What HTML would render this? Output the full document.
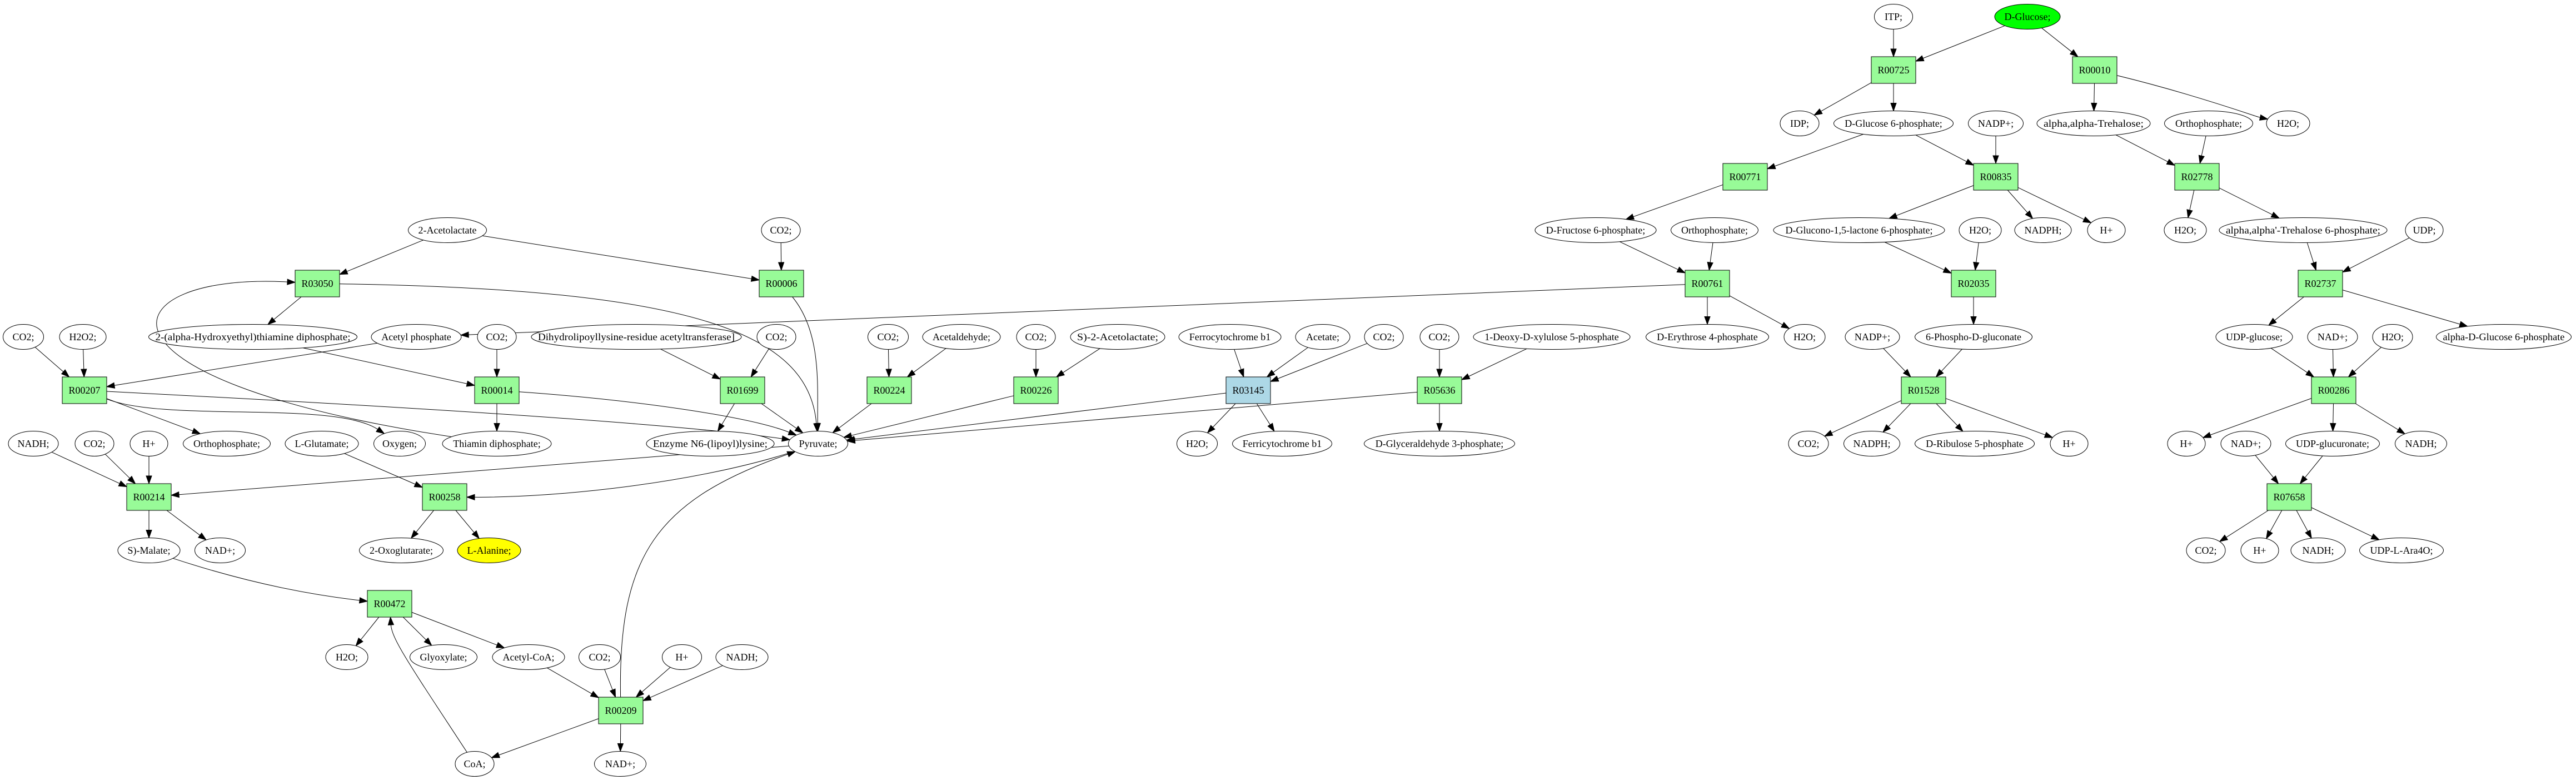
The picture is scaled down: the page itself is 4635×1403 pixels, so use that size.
<!DOCTYPE html>
<html><head><meta charset="utf-8">
<style>html,body{margin:0;padding:0;background:#fff;}svg{display:block;}</style>
</head><body>
<svg id="g" xmlns="http://www.w3.org/2000/svg" width="4635" height="1403" viewBox="0 0 4635 1403" font-family="Liberation Serif, serif" font-size="18"></svg>
<script>
var L=[30,126,222,318,414,510,606,702,798,894,990,1086,1182,1278,1374];
var N={};
function e(id,x,lv,w,label,fill){N[id]={x:x,y:L[lv],w:w,h:45,t:'e',l:label,f:fill||'#fff'};}
function r(id,x,lv,fill){N[id]={x:x,y:L[lv],w:80,h:48,t:'r',l:id,f:fill||'#98fb98'};}
e('acl',805,4,141,'2-Acetolactate');
e('co2a',1405,4,70,'CO2;');
r('R03050',571,5); r('R00006',1406,5);
e('co2b',42,6,73,'CO2;'); e('h2o2',149,6,84,'H2O2;');
e('hte',455,6,375,'2-(alpha-Hydroxyethyl)thiamine diphosphate;');
e('acp',749,6,162,'Acetyl phosphate');
e('co2c',894,6,70,'CO2;');
e('dhl',1145,6,378,'Dihydrolipoyllysine-residue acetyltransferase]');
e('co2d',1397,6,70,'CO2;');
e('co2e',1598,6,73,'CO2;'); e('acald',1730,6,140,'Acetaldehyde;');
e('co2f',1864,6,70,'CO2;'); e('s2a',2011,6,170,'S)-2-Acetolactate;');
e('ferro',2213,6,184,'Ferrocytochrome b1'); e('acet',2380,6,98,'Acetate;');
e('co2g',2490,6,70,'CO2;'); e('co2h',2590,6,70,'CO2;');
e('dxp',2792,6,282,'1-Deoxy-D-xylulose 5-phosphate');
e('e4p',3072,6,221,'D-Erythrose 4-phosphate');
r('R00207',152,7); r('R00014',894,7); r('R01699',1336,7); r('R00224',1600,7); r('R00226',1864,7);
r('R03145',2246,7,'#add8e6'); r('R05636',2590,7);
e('nadha',60,8,90,'NADH;'); e('co2i',170,8,70,'CO2;'); e('hpa',268,8,68,'H+');
e('orth',408,8,157,'Orthophosphate;'); e('glu',579,8,132,'L-Glutamate;');
e('oxy',719,8,93,'Oxygen;'); e('tdp',894,8,196,'Thiamin diphosphate;');
e('enz',1278,8,230,'Enzyme N6-(lipoyl)lysine;'); e('pyr',1472,8,107,'Pyruvate;');
e('h2oa',2154,8,73,'H2O;'); e('ferri',2307,8,179,'Ferricytochrome b1');
e('gap',2590,8,271,'D-Glyceraldehyde 3-phosphate;');
r('R00214',268,9); r('R00258',800,9);
e('mal',268,10,112,'S)-Malate;'); e('nadpa',396,10,91,'NAD+;');
e('oxg',722,10,151,'2-Oxoglutarate;'); e('ala',880,10,114,'L-Alanine;','#ffff00');
r('R00472',701,11);
e('h2ob',624,12,76,'H2O;'); e('glx',798,12,121,'Glyoxylate;'); e('acoa',951,12,130,'Acetyl-CoA;');
e('co2j',1079,12,75,'CO2;'); e('hpb',1227,12,71,'H+'); e('nadhb',1335,12,94,'NADH;');
r('R00209',1117,13);
e('coa',854,14,70,'CoA;'); e('nadpb',1116,14,93,'NAD+;');
e('itp',3407,0,69,'ITP;'); e('glc',3648,0,118,'D-Glucose;','#00ff00');
r('R00725',3407,1); r('R00010',3769,1);
e('idp',3238,2,70,'IDP;'); e('g6p',3407,2,215,'D-Glucose 6-phosphate;');
e('nadp1',3591,2,99,'NADP+;'); e('tre',3767,2,204,'alpha,alpha-Trehalose;');
e('orth2',3974,2,159,'Orthophosphate;'); e('h2oc',4117,2,78,'H2O;');
r('R00771',3140,3); r('R00835',3591,3); r('R02778',3953,3);
e('f6p',2871,4,218,'D-Fructose 6-phosphate;'); e('orth3',3085,4,157,'Orthophosphate;');
e('glcl',3345,4,308,'D-Glucono-1,5-lactone 6-phosphate;'); e('h2od',3563,4,76,'H2O;');
e('nadph1',3676,4,102,'NADPH;'); e('hpc',3790,4,68,'H+');
e('h2oe',3932,4,76,'H2O;'); e('t6p',4144,4,302,"alpha,alpha'-Trehalose 6-phosphate;");
e('udp',4362,4,68,'UDP;');
r('R00761',3072,5); r('R02035',3551,5); r('R02737',4175,5);
e('h2of',3247,6,74,'H2O;'); e('nadp2',3369,6,98,'NADP+;'); e('pgn',3551,6,211,'6-Phospho-D-gluconate');
e('udpg',4056,6,138,'UDP-glucose;'); e('nadpc',4197,6,90,'NAD+;'); e('h2og',4305,6,72,'H2O;');
e('ag6p',4505,6,243,'alpha-D-Glucose 6-phosphate');
r('R01528',3461,7); r('R00286',4199,7);
e('co2k',3254,8,72,'CO2;'); e('nadph2',3368,8,101,'NADPH;'); e('ru5p',3553,8,215,'D-Ribulose 5-phosphate');
e('hpd',3723,8,68,'H+'); e('hpe',3934,8,68,'H+'); e('nadpd',4041,8,90,'NAD+;');
e('udpga',4197,8,169,'UDP-glucuronate;'); e('nadhc',4356,8,93,'NADH;');
r('R07658',4119,9);
e('co2l',3969,10,70,'CO2;'); e('hpf',4066,10,68,'H+'); e('nadhd',4171,10,98,'NADH;');
e('ara',4321,10,151,'UDP-L-Ara4O;');

var E=[
['acl','R03050'],['acl','R00006'],['co2a','R00006'],['R03050','hte'],
['R03050','pyr',[1250,520],[1455,600]],['R00006','pyr',[1480,600],[1470,700]],
['R00761','acp'],['tdp','R03050',[120,680],[200,490]],
['acp','R00207'],['hte','R00014'],['co2c','R00014'],['co2b','R00207'],['h2o2','R00207'],
['R00207','pyr',[700,730],[1200,760]],['R00207','orth'],['R00207','oxy',[300,760],[600,720]],
['R00014','tdp'],['R00014','pyr',[1150,720],[1350,750]],
['dhl','R01699'],['co2d','R01699'],['R01699','enz'],['R01699','pyr'],
['co2e','R00224'],['acald','R00224'],['R00224','pyr'],
['co2f','R00226'],['s2a','R00226'],['R00226','pyr'],
['ferro','R03145'],['acet','R03145'],['co2g','R03145'],['R03145','pyr'],['R03145','h2oa'],['R03145','ferri'],
['co2h','R05636'],['dxp','R05636'],['R05636','pyr'],['R05636','gap'],
['pyr','R00214'],['pyr','R00258',[1250,870],[1000,895]],
['nadha','R00214'],['co2i','R00214'],['hpa','R00214'],['glu','R00258'],
['R00214','mal'],['R00214','nadpa'],['R00258','oxg'],['R00258','ala'],
['mal','R00472',[450,1050],[560,1070]],['R00472','h2ob'],['R00472','glx'],['R00472','acoa'],
['coa','R00472',[740,1200],[705,1150]],
['acoa','R00209'],['co2j','R00209'],['hpb','R00209'],['nadhb','R00209'],
['R00209','coa'],['R00209','nadpb'],['R00209','pyr',[1112,1000],[1180,900]],
['itp','R00725'],['glc','R00725'],['glc','R00010'],
['R00725','idp'],['R00725','g6p'],['R00010','tre'],['R00010','h2oc',[3950,170],[4060,210]],
['g6p','R00771'],['g6p','R00835'],['nadp1','R00835'],['tre','R02778'],['orth2','R02778'],
['R00771','f6p'],['R00835','glcl'],['R00835','nadph1'],['R00835','hpc'],['R02778','h2oe'],['R02778','t6p'],
['f6p','R00761'],['orth3','R00761'],['R00761','e4p'],['R00761','h2of'],
['glcl','R02035'],['h2od','R02035'],['R02035','pgn'],
['t6p','R02737'],['udp','R02737'],['R02737','udpg'],['R02737','ag6p'],
['nadp2','R01528'],['pgn','R01528'],['R01528','co2k'],['R01528','nadph2'],['R01528','ru5p'],['R01528','hpd'],
['udpg','R00286'],['nadpc','R00286'],['h2og','R00286'],['R00286','hpe'],['R00286','udpga'],['R00286','nadhc'],
['nadpd','R07658'],['udpga','R07658'],['R07658','co2l'],['R07658','hpf'],['R07658','nadhd'],['R07658','ara']
];
function bnd(n,px,py){var dx=px-n.x,dy=py-n.y;if(dx==0&&dy==0)return [n.x,n.y];
 var a=n.w/2,b=n.h/2,t;
 if(n.t=='e'){t=1/Math.sqrt((dx/a)*(dx/a)+(dy/b)*(dy/b));}
 else{t=Math.min(Math.abs(dx)>0?a/Math.abs(dx):1e9,Math.abs(dy)>0?b/Math.abs(dy):1e9);}
 return [n.x+dx*t,n.y+dy*t];}
var s='';
E.forEach(function(ed){var A=N[ed[0]],B=N[ed[1]];
 var c1=ed[2]||[B.x,B.y],c2=ed[3]||[A.x,A.y];
 var p0=bnd(A,c1[0],c1[1]),p3=bnd(B,c2[0],c2[1]);
 var dx=p3[0]-c2[0],dy=p3[1]-c2[1],d=Math.sqrt(dx*dx+dy*dy);dx/=d;dy/=d;
 var al=14,aw=5;var q=[p3[0]-dx*al,p3[1]-dy*al];
 if(ed[2]){s+='<path d="M'+p0[0].toFixed(1)+','+p0[1].toFixed(1)+' C'+c1[0]+','+c1[1]+' '+c2[0]+','+c2[1]+' '+q[0].toFixed(1)+','+q[1].toFixed(1)+'" fill="none" stroke="#000" stroke-width="1"/>';}
 else{s+='<line x1="'+p0[0].toFixed(1)+'" y1="'+p0[1].toFixed(1)+'" x2="'+q[0].toFixed(1)+'" y2="'+q[1].toFixed(1)+'" stroke="#000" stroke-width="1"/>';}
 s+='<polygon points="'+p3[0].toFixed(1)+','+p3[1].toFixed(1)+' '+(q[0]-dy*aw).toFixed(1)+','+(q[1]+dx*aw).toFixed(1)+' '+(q[0]+dy*aw).toFixed(1)+','+(q[1]-dx*aw).toFixed(1)+'" fill="#000" stroke="#000"/>';
});
for(var k in N){var n=N[k];
 if(n.t=='e')s+='<ellipse cx="'+n.x+'" cy="'+n.y+'" rx="'+n.w/2+'" ry="'+n.h/2+'" fill="'+n.f+'" stroke="#000" stroke-width="1"/>';
 else s+='<rect x="'+(n.x-n.w/2)+'" y="'+(n.y-n.h/2)+'" width="'+n.w+'" height="'+n.h+'" fill="'+n.f+'" stroke="#000" stroke-width="1"/>';
 var lab=n.l.replace(/&/g,'&amp;').replace(/</g,'&lt;');
 var mx=(n.t=='e')?n.w-24:n.w-14, est=n.l.length*8.3, extra='';
 if(est>mx) extra=' textLength="'+mx+'" lengthAdjust="spacingAndGlyphs"';
 s+='<text x="'+n.x+'" y="'+(n.y+6)+'" text-anchor="middle"'+extra+'>'+lab+'</text>';
}
document.getElementById('g').innerHTML=s;
</script>
</body></html>
